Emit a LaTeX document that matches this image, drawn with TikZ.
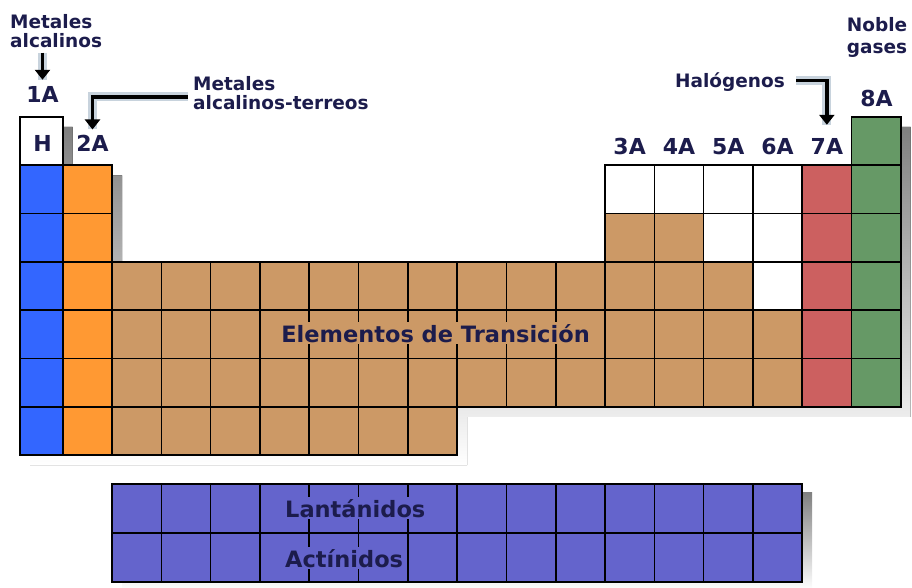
\documentclass[tikz,border=0pt]{standalone}
\usepackage{fontspec}
\setmainfont{DejaVu Sans}
\usetikzlibrary{arrows.meta}
\definecolor{alkali}{HTML}{3366FF}
\definecolor{earth}{HTML}{FF9933}
\definecolor{trans}{HTML}{CC9966}
\definecolor{halogen}{HTML}{CC6060}
\definecolor{noble}{HTML}{669966}
\definecolor{rare}{HTML}{6464CC}
\definecolor{ink}{HTML}{1C1C4C}
\definecolor{shade}{HTML}{C8D3DD}
\tikzset{
  cellline/.style={draw=black,line width=1.6pt},
  namelabel/.style={font=\bfseries\fontsize{18.5}{19}\selectfont,text=ink,inner sep=1pt,align=left},
  grouplabel/.style={font=\bfseries\fontsize{22}{22}\selectfont,text=ink,inner sep=1pt},
  blocklabel/.style={font=\bfseries\fontsize{22.5}{22.5}\selectfont,text=ink,inner sep=2pt,anchor=base},
  pointer/.style={line width=3.5pt,-{Triangle[width=15pt,length=10pt]}},
  pointershade/.style={line width=9pt,draw=shade,xshift=6pt,yshift=-6pt},
}
% one cell of the main table: column, row, colour
\newcommand\pcell[3]{%
  \pgfmathsetmacro\cellxa{112+49.3*(#1-2)}%
  \ifnum#1=0 \def\cellxa{20}\fi
  \pgfmathsetmacro\cellxb{112+49.3*(#1-1)}%
  \pgfmathsetmacro\cellya{117+48.3*#2}%
  \pgfmathsetmacro\cellyb{117+48.3*(#2+1)}%
  \draw[cellline,fill=#3] (\cellxa,\cellya) rectangle (\cellxb,\cellyb);}
\begin{document}
\begin{tikzpicture}[x=1pt,y=-1pt]
\useasboundingbox (0,0) rectangle (912,588);
% shadows
\fill[shade,xshift=10pt,yshift=-10pt] (20,117) -- (62.7,117) -- (62.7,165.3)
  -- (112,165.3) -- (112,262) -- (606.5,262) -- (606.5,165.3) -- (851.5,165.3)
  -- (851.5,117) -- (900.6,117) -- (900.6,406.8) -- (457,406.8) -- (457,455)
  -- (20,455) -- cycle;
\fill[shade,xshift=10pt,yshift=-8pt] (112,484) rectangle (802.2,582);
% main table
\pcell{0}{0}{white}
\foreach \row in {1,...,6} {\pcell{0}{\row}{alkali} \pcell{1}{\row}{earth}}
\foreach \row in {3,4,5} \foreach \col in {2,...,11} {\pcell{\col}{\row}{trans}}
\foreach \col in {2,...,8} {\pcell{\col}{6}{trans}}
\foreach \col in {12,...,15} {\pcell{\col}{1}{white}}
\foreach \col/\tone in {12/trans,13/trans,14/white,15/white} {\pcell{\col}{2}{\tone}}
\foreach \col/\tone in {12/trans,13/trans,14/trans,15/white} {\pcell{\col}{3}{\tone}}
\foreach \row in {4,5} \foreach \col in {12,...,15} {\pcell{\col}{\row}{trans}}
\foreach \row in {1,...,5} {\pcell{16}{\row}{halogen}}
\foreach \row in {0,...,5} {\pcell{17}{\row}{noble}}
% lanthanides and actinides
\foreach \row in {0,1} \foreach \num in {0,...,13} {
  \pgfmathsetmacro\cellxa{112+49.3*\num}
  \pgfmathsetmacro\cellya{484+49*\row}
  \draw[cellline,fill=rare] (\cellxa,\cellya) rectangle ++(49.3,49);
}
% texts
\node[grouplabel,anchor=base] (h) at (42.5,152) {H};
\node[namelabel,anchor=north west] (alc) at (9,13) {Metales\\alcalinos};
\node[grouplabel,anchor=base] (g1) at (42.5,103) {1A};
\node[grouplabel,anchor=base] (g2) at (92.5,152) {2A};
\node[namelabel,anchor=north west] (alct) at (192,75) {Metales\\alcalinos-terreos};
\node[namelabel,anchor=base] (hal) at (730,88) {Halógenos};
\node[namelabel,align=center,anchor=north] (nob) at (877,16) {Noble\\[3pt]gases};
\node[grouplabel,anchor=base] (g8) at (876.5,107) {8A};
\foreach \col/\grp in {12/3,13/4,14/5,15/6,16/7}
  \node[grouplabel,anchor=base] (g\grp) at ({112+49.3*(\col-1.5)},155) {\grp A};
\node[blocklabel,fill=trans] (trn) at (435.5,342) {Elementos de Transición};
\node[blocklabel,fill=rare,anchor=base west] (lan) at (283,517) {Lantánidos};
\node[blocklabel,fill=rare,anchor=base west] (act) at (283,567) {Actínidos};
% pointers
\draw[pointershade] ([yshift=-4pt]g1.north |- alc.south) -- ([yshift=6pt]g1.north);
\draw[pointershade] ([xshift=-4pt,yshift=-4pt]alct.west) -| ([yshift=5pt]g2.north);
\draw[pointershade] ([xshift=10pt,yshift=2pt]hal.east) -| ([yshift=13pt]g7.north);
\draw[pointer] ([yshift=-4pt]g1.north |- alc.south) -- ([yshift=6pt]g1.north);
\draw[pointer] ([xshift=-4pt,yshift=-4pt]alct.west) -| ([yshift=5pt]g2.north);
\draw[pointer] ([xshift=10pt,yshift=2pt]hal.east) -| ([yshift=13pt]g7.north);
\end{tikzpicture}
\end{document}
